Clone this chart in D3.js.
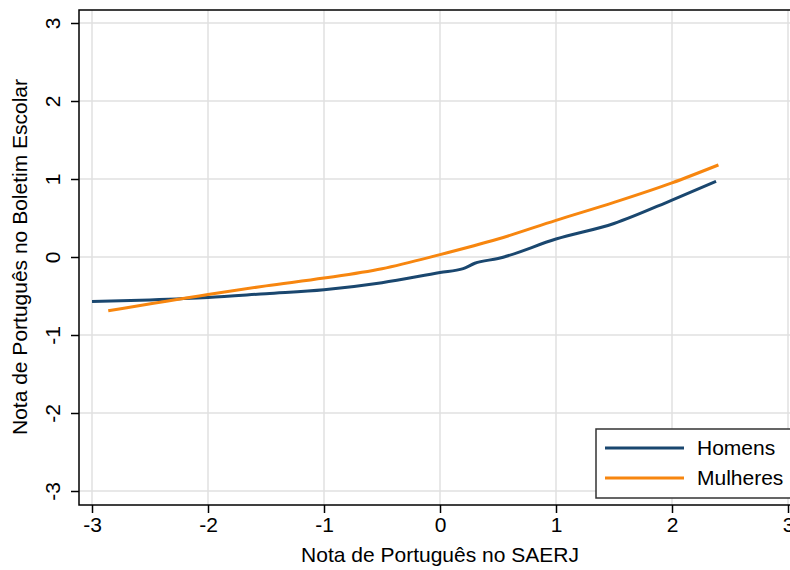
<!DOCTYPE html>
<html><head><meta charset="utf-8">
<script src="https://cdn.jsdelivr.net/npm/d3@7"></script>
<style>body{margin:0;background:#fff}svg{display:block}text{font-family:"Liberation Sans",Arial,sans-serif}</style>
</head><body>
<script>
const xTicks = [-3,-2,-1,0,1,2,3];
const yTicks = [-3,-2,-1,0,1,2,3];
const seriesNames = ["Homens","Mulheres"];
const homensX = [-3,-2.5,-2,-1.5,-1,-0.5,0,0.2,0.3,0.5,1,1.5,2,2.38];
const homensY = [-0.57,-0.55,-0.52,-0.47,-0.42,-0.33,-0.2,-0.15,-0.08,-0.02,0.23,0.43,0.73,0.97];
const mulheresX = [-2.86,-2,-1.5,-1,-0.5,0,0.5,1,1.5,2,2.4];
const mulheresY = [-0.69,-0.48,-0.37,-0.27,-0.15,0.03,0.23,0.47,0.70,0.95,1.18];
const colors = ["#1a476f","#f7860f"];

const W=790,H=570;
const svg=d3.select("body").append("svg").attr("width",W).attr("height",H);
const x=d3.scaleLinear().domain([-3,3]).range([92,788]);
const y=d3.scaleLinear().domain([-3,3]).range([491,23]);
const L=79,T=10,B=505,R=900;
const FS=21;

svg.append("g").selectAll("line").data(xTicks).join("line")
 .attr("x1",d=>x(d)).attr("x2",d=>x(d)).attr("y1",T).attr("y2",B)
 .attr("stroke","#e1e1e1").attr("stroke-width",1.5);
svg.append("g").selectAll("line").data(yTicks).join("line")
 .attr("x1",L).attr("x2",R).attr("y1",d=>y(d)).attr("y2",d=>y(d))
 .attr("stroke","#e1e1e1").attr("stroke-width",1.5);
svg.append("rect").attr("x",L).attr("y",T).attr("width",R-L).attr("height",B-T)
 .attr("fill","none").attr("stroke","#000").attr("stroke-width",1.5);

const xa=svg.append("g").attr("transform",`translate(0,${B})`)
 .call(d3.axisBottom(x).tickValues(xTicks).tickSize(8).tickPadding(4).tickFormat(d3.format("d")));
xa.attr("font-size",null).attr("font-family",null);
xa.select(".domain").remove();
xa.selectAll("line").attr("stroke-width",1.5);
xa.selectAll("text").style("font-size",FS+"px").attr("fill","#000").attr("y",12).text(d=>d<0?"-"+Math.abs(d):d);
const ya=svg.append("g").attr("transform",`translate(${L},0)`)
 .call(d3.axisLeft(y).tickValues(yTicks).tickSize(8).tickFormat(d3.format("d")));
ya.attr("font-size",null).attr("font-family",null);
ya.select(".domain").remove();
ya.selectAll("line").attr("stroke-width",1.5);
ya.selectAll("text").style("font-size",FS+"px").attr("fill","#000")
 .attr("text-anchor","middle").attr("x",0).attr("dy",0)
 .attr("transform","translate(-19,0) rotate(-90)")
 .text(d=>d<0?"-"+Math.abs(d):d);

svg.append("text").attr("x",440).attr("y",562).attr("text-anchor","middle").style("font-size",FS+"px").text("Nota de Português no SAERJ");
svg.append("text").attr("transform","translate(27,257) rotate(-90)").attr("text-anchor","middle").style("font-size",FS+"px").text("Nota de Português no Boletim Escolar");

const line=d3.line().x(d=>x(d[0])).y(d=>y(d[1])).curve(d3.curveMonotoneX);
const data=[d3.zip(homensX,homensY), d3.zip(mulheresX,mulheresY)];
svg.append("g").selectAll("path").data(data).join("path")
 .attr("d",line).attr("fill","none").attr("stroke",(d,i)=>colors[i]).attr("stroke-width",3);

const lg=svg.append("g");
lg.append("rect").attr("x",596).attr("y",429).attr("width",300).attr("height",69)
 .attr("fill","#fff").attr("stroke","#333").attr("stroke-width",1.5);
seriesNames.forEach((n,i)=>{
  const yy=448+i*30;
  lg.append("line").attr("x1",605).attr("x2",684).attr("y1",yy).attr("y2",yy).attr("stroke",colors[i]).attr("stroke-width",3);
  lg.append("text").attr("x",697).attr("y",yy+7).style("font-size",FS+"px").text(n);
});
</script>
</body></html>
